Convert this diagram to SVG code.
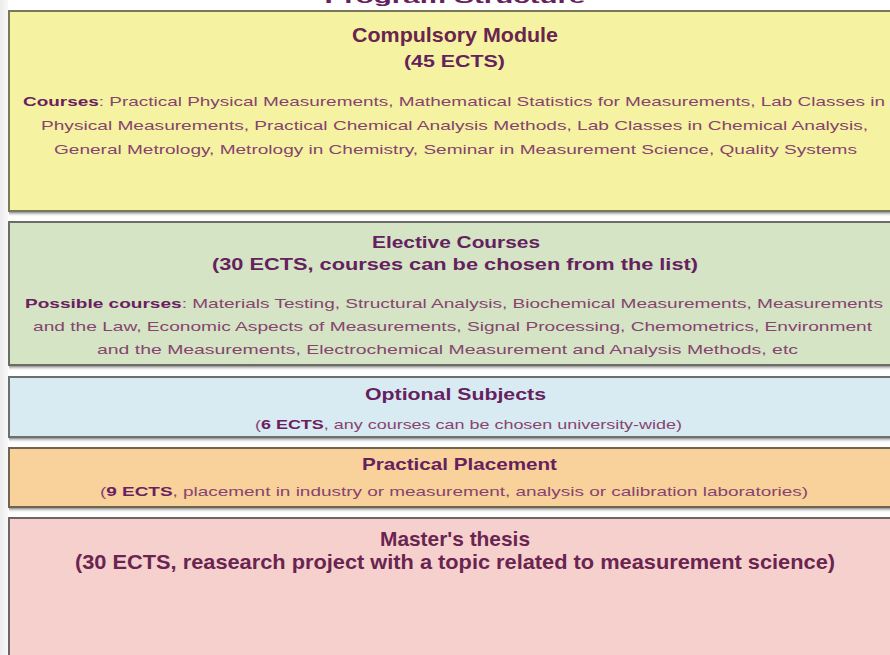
<svg xmlns="http://www.w3.org/2000/svg" width="890" height="655" viewBox="0 0 890 655">
  <defs>
    <linearGradient id="drop" x1="0" y1="0" x2="0" y2="1">
      <stop offset="0" stop-color="#8c8c8c"/>
      <stop offset="1" stop-color="#ffffff" stop-opacity="0"/>
    </linearGradient>
    <linearGradient id="margin" x1="0" y1="0" x2="1" y2="0">
      <stop offset="0" stop-color="#ececee"/>
      <stop offset="1" stop-color="#f8f8f8"/>
    </linearGradient>
  </defs>
  <style>
    .box { stroke-width: 2; }
    .head { font-family: "Liberation Sans", Arial, sans-serif; font-weight: bold; font-size: 17px; fill: #65215e; text-anchor: middle; }
    .narrow { font-family: "Liberation Sans Narrow", "Liberation Sans", Arial, sans-serif; font-weight: bold; font-size: 21px; fill: #6a2450; text-anchor: middle; }
    .body { font-family: "Liberation Sans", Arial, sans-serif; font-size: 13.5px; fill: #86446f; text-anchor: middle; }
    .body .b { font-weight: bold; fill: #6a2060; }
  </style>

  <!-- page -->
  <rect x="0" y="0" width="890" height="655" fill="#ffffff"/>
  <rect x="0" y="0" width="8" height="655" fill="url(#margin)"/>

  <!-- heading, mostly above the top edge -->
  <text x="455" y="3" class="head" font-size="22" textLength="261" lengthAdjust="spacingAndGlyphs">Program Structure</text>

  <!-- compulsory module -->
  <g id="compulsory">
    <rect x="9" y="11" width="890" height="200" fill="#f5f3a1" stroke="#7a785a" class="box"/>
    <rect x="9" y="212" width="890" height="5" fill="url(#drop)"/>
    <text x="455" y="42" class="narrow" textLength="206" lengthAdjust="spacingAndGlyphs">Compulsory Module</text>
    <text x="454.5" y="67" class="head" textLength="101" lengthAdjust="spacingAndGlyphs">(45 ECTS)</text>
    <text x="454" y="106" class="body" textLength="862" lengthAdjust="spacingAndGlyphs"><tspan class="b">Courses</tspan>: Practical Physical Measurements, Mathematical Statistics for Measurements, Lab Classes in</text>
    <text x="454.5" y="130" class="body" textLength="827" lengthAdjust="spacingAndGlyphs">Physical Measurements, Practical Chemical Analysis Methods, Lab Classes in Chemical Analysis,</text>
    <text x="455.5" y="154" class="body" textLength="803" lengthAdjust="spacingAndGlyphs">General Metrology, Metrology in Chemistry, Seminar in Measurement Science, Quality Systems</text>
  </g>

  <!-- elective courses -->
  <g id="elective">
    <rect x="9" y="222" width="890" height="143" fill="#d4e4c5" stroke="#6c6c66" class="box"/>
    <rect x="9" y="366" width="890" height="5" fill="url(#drop)"/>
    <text x="456" y="248" class="head" textLength="168" lengthAdjust="spacingAndGlyphs">Elective Courses</text>
    <text x="455" y="270" class="head" textLength="486" lengthAdjust="spacingAndGlyphs">(30 ECTS, courses can be chosen from the list)</text>
    <text x="454" y="308" class="body" textLength="858" lengthAdjust="spacingAndGlyphs"><tspan class="b">Possible courses</tspan>: Materials Testing, Structural Analysis, Biochemical Measurements, Measurements</text>
    <text x="452.5" y="331" class="body" textLength="839" lengthAdjust="spacingAndGlyphs">and the Law, Economic Aspects of Measurements, Signal Processing, Chemometrics, Environment</text>
    <text x="447.5" y="354" class="body" textLength="701" lengthAdjust="spacingAndGlyphs">and the Measurements, Electrochemical Measurement and Analysis Methods, etc</text>
  </g>

  <!-- optional subjects -->
  <g id="optional">
    <rect x="9" y="377" width="890" height="60" fill="#d8ebf2" stroke="#6c6e70" class="box"/>
    <rect x="9" y="438" width="890" height="5" fill="url(#drop)"/>
    <text x="455.5" y="400" class="head" textLength="181" lengthAdjust="spacingAndGlyphs">Optional Subjects</text>
    <text x="468.5" y="429" class="body" textLength="427" lengthAdjust="spacingAndGlyphs">(<tspan class="b">6 ECTS</tspan>, any courses can be chosen university-wide)</text>
  </g>

  <!-- practical placement -->
  <g id="placement">
    <rect x="9" y="448" width="890" height="59" fill="#f8d19b" stroke="#6e6450" class="box"/>
    <rect x="9" y="508" width="890" height="5" fill="url(#drop)"/>
    <text x="459.5" y="470" class="head" textLength="195" lengthAdjust="spacingAndGlyphs">Practical Placement</text>
    <text x="454" y="496" class="body" textLength="708" lengthAdjust="spacingAndGlyphs">(<tspan class="b">9 ECTS</tspan>, placement in industry or measurement, analysis or calibration laboratories)</text>
  </g>

  <!-- master's thesis -->
  <g id="thesis">
    <rect x="9" y="518" width="890" height="150" fill="#f6d0cd" stroke="#6e6466" class="box"/>
    <text x="455" y="546" class="narrow" fill="#6a246a" textLength="150" lengthAdjust="spacingAndGlyphs">Master's thesis</text>
    <text x="455" y="569" class="narrow" textLength="760" lengthAdjust="spacingAndGlyphs">(30 ECTS, reasearch project with a topic related to measurement science)</text>
  </g>

  <!-- no connectors in this diagram -->
  <g id="connectors"/>
</svg>
